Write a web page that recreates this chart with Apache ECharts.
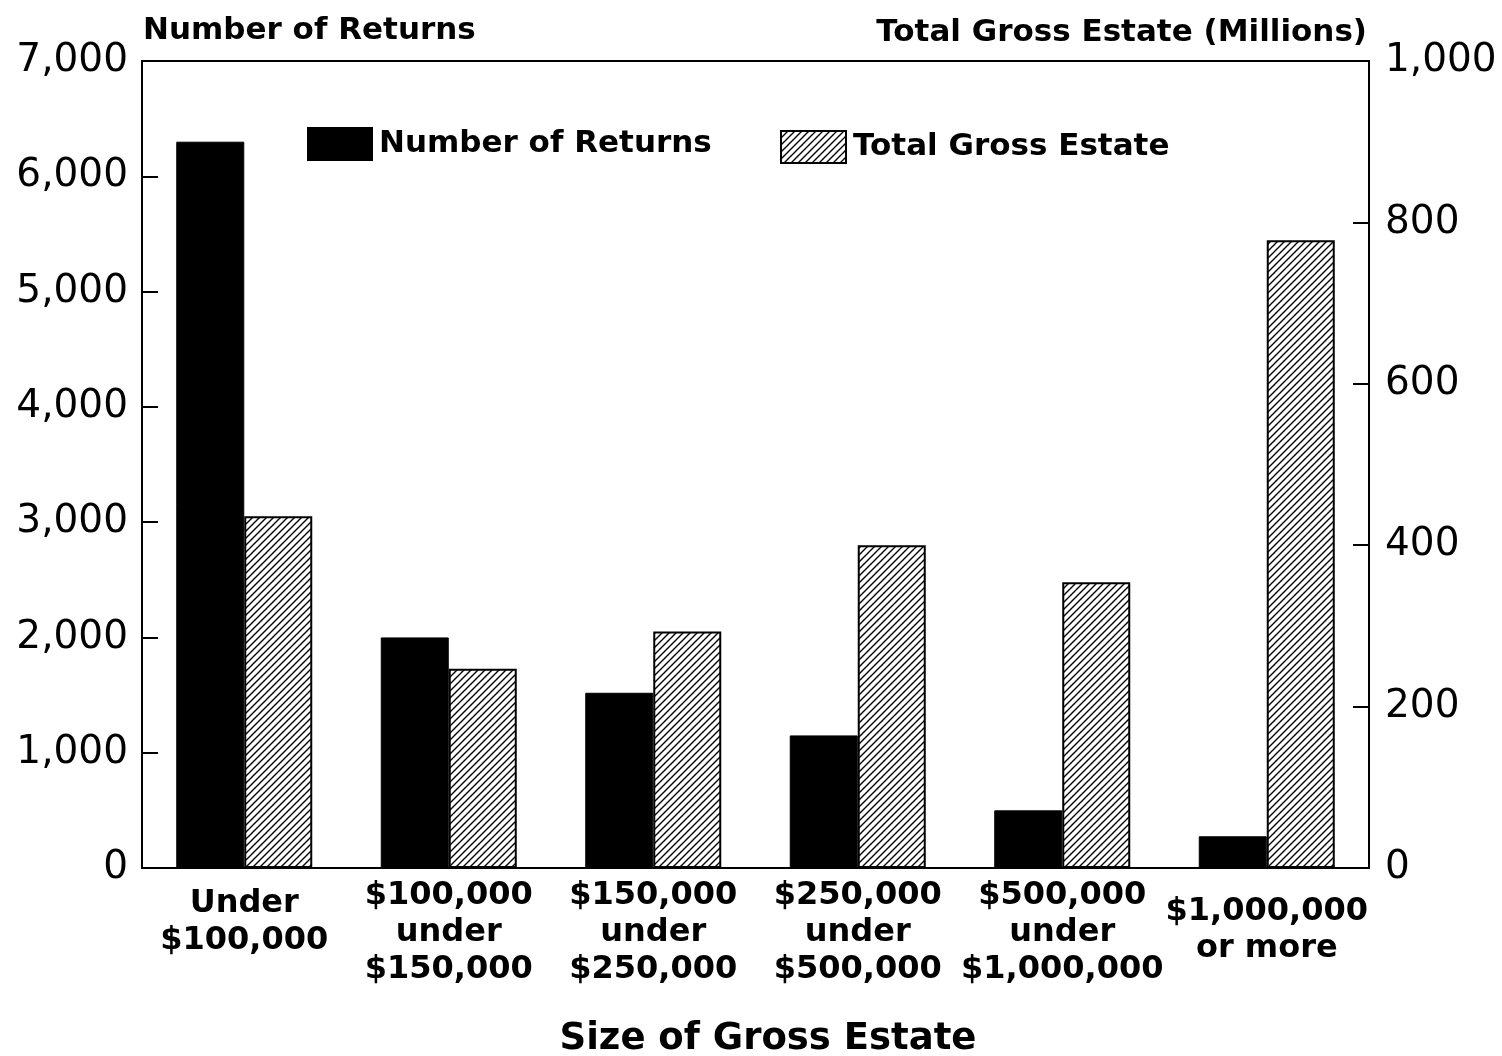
<!DOCTYPE html>
<html>
<head>
<meta charset="utf-8">
<script src="https://cdn.jsdelivr.net/npm/echarts@6/dist/echarts.min.js"></script>
<style>
  html, body { margin: 0; padding: 0; background: #fff; }
  #chart { width: 1502px; height: 1056px; }
</style>
</head>
<body>
<div id="chart"></div>
<script>
// data
const categories = [
  'Under\n$100,000',
  '$100,000\nunder\n$150,000',
  '$150,000\nunder\n$250,000',
  '$250,000\nunder\n$500,000',
  '$500,000\nunder\n$1,000,000',
  '$1,000,000\nor more'
]
const numberOfReturns = [6300, 2000, 1520, 1150, 500, 275]
const totalGrossEstate = [436, 247, 293, 400, 354, 778]
const leftTicks = { min: 0, max: 7000, interval: 1000 }
const rightTicks = { min: 0, max: 1000, interval: 200 }

const FONT = 'DejaVu Sans'

// hatch fill "/"
const makeHatch = () => {
  const size = 7
  const c = document.createElement('canvas')
  c.width = size
  c.height = size
  const ctx = c.getContext('2d')
  ctx.fillStyle = '#fff'
  ctx.fillRect(0, 0, size, size)
  ctx.strokeStyle = '#000'
  ctx.lineWidth = 1.4
  ctx.beginPath()
  ctx.moveTo(-1, size + 1); ctx.lineTo(size + 1, -1)
  ctx.moveTo(-2, 2); ctx.lineTo(2, -2)
  ctx.moveTo(size - 2, size + 2); ctx.lineTo(size + 2, size - 2)
  ctx.stroke()
  return c
}
const hatch = { image: makeHatch(), repeat: 'repeat' }

const withCommas = v => String(v).replace(/\B(?=(\d{3})+(?!\d))/g, ',')

// the two-line labels sit a bit lower in the original
const labelPadTop = [8, 0, 0, 0, 0, 16]

const chart = echarts.init(document.getElementById('chart'))

const legendText = { fontFamily: FONT, fontSize: 31, fontWeight: 'bold', color: '#000', padding: [0, 0, 0, 2] }

const option = {
  backgroundColor: '#fff',
  animation: false,
  title: [
    { text: 'Number of Returns', left: 138, top: 10,
      textStyle: { fontFamily: FONT, fontSize: 31, fontWeight: 'bold', color: '#000' } },
    { text: 'Total Gross Estate (Millions)', right: 130, top: 12,
      textStyle: { fontFamily: FONT, fontSize: 31, fontWeight: 'bold', color: '#000' } },
    { text: 'Size of Gross Estate', left: 763, top: 1016, textAlign: 'center',
      textStyle: { fontFamily: FONT, fontSize: 37, fontWeight: 'bold', color: '#000' } }
  ],
  legend: [
    { data: ['Number of Returns'], left: 302, top: 122, itemWidth: 64, itemHeight: 32, itemGap: 10,
      icon: 'rect', textStyle: legendText },
    { data: ['Total Gross Estate'], left: 775, top: 125, itemWidth: 65, itemHeight: 32, itemGap: 10,
      icon: 'rect', textStyle: legendText }
  ],
  grid: {
    left: 142, right: 133, top: 61, bottom: 188,
    show: true, borderColor: '#000', borderWidth: 2
  },
  xAxis: {
    type: 'category',
    data: categories.map((c, i) => ({ value: c, textStyle: { padding: [labelPadTop[i], 0, 0, 0] } })),
    axisTick: { show: false },
    axisLine: { lineStyle: { color: '#000', width: 2 } },
    axisLabel: {
      interval: 0, margin: 9, color: '#000',
      fontFamily: FONT, fontSize: 32, fontWeight: 'bold', lineHeight: 37
    }
  },
  yAxis: [
    {
      type: 'value', position: 'left', ...leftTicks,
      splitLine: { show: false },
      axisLine: { show: true, lineStyle: { color: '#000', width: 2 } },
      axisTick: { show: true, inside: true, length: 16, lineStyle: { color: '#000', width: 2 } },
      axisLabel: { margin: 14, color: '#000', fontFamily: FONT, fontSize: 39, padding: [8, 0, 0, 0], formatter: withCommas }
    },
    {
      type: 'value', position: 'right', ...rightTicks,
      splitLine: { show: false },
      axisLine: { show: true, lineStyle: { color: '#000', width: 2 } },
      axisTick: { show: true, inside: true, length: 16, lineStyle: { color: '#000', width: 2 } },
      axisLabel: { margin: 16, color: '#000', fontFamily: FONT, fontSize: 39, padding: [8, 0, 0, 0], formatter: withCommas }
    }
  ],
  series: [
    {
      name: 'Number of Returns', type: 'bar', yAxisIndex: 0,
      data: numberOfReturns, barWidth: 68, barGap: '0%',
      itemStyle: { color: '#000', borderColor: '#000', borderWidth: 1 }
    },
    {
      name: 'Total Gross Estate', type: 'bar', yAxisIndex: 1,
      data: totalGrossEstate, barWidth: 68, barGap: '0%',
      itemStyle: { color: hatch, borderColor: '#000', borderWidth: 2 }
    }
  ]
}

chart.setOption(option)
</script>
</body>
</html>
